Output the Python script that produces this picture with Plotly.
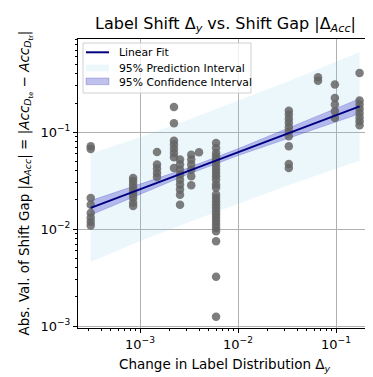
import plotly.graph_objects as go

# Scatter data: change in label distribution vs absolute shift gap
shift_x = (
    [3.14e-4] * 8
    + [8.5e-4] * 9
    + [1.49e-3] * 5
    + [2.22e-3] * 8
    + [2.56e-3] * 9
    + [3.33e-3] * 6
    + [4.0e-3] * 1
    + [5.97e-3] * 28
    + [0.033] * 10
    + [0.0655] * 2
    + [0.0974] * 5
    + [0.174] * 8
)
gap_y = [
    0.0718, 0.0673, 0.021, 0.0179, 0.0147, 0.0131, 0.0119, 0.0109,
    0.0338, 0.0313, 0.0289, 0.0267, 0.0247, 0.0228, 0.021, 0.0187, 0.0173,
    0.0626, 0.0464, 0.0422, 0.038, 0.0346,
    0.182, 0.124, 0.0819, 0.0745, 0.0677, 0.0612, 0.0553, 0.0428,
    0.0522, 0.0464, 0.0411, 0.0365, 0.0324, 0.0288, 0.0256, 0.0227, 0.0179,
    0.0587, 0.0522, 0.0464, 0.0411, 0.0351, 0.0284,
    0.0622,
    0.0776, 0.0689, 0.0612, 0.0566, 0.0522, 0.0483, 0.0446, 0.0411, 0.038, 0.0351,
    0.0324, 0.0288, 0.0267, 0.0228, 0.021, 0.0194, 0.0179, 0.0166, 0.0153, 0.0142,
    0.0131, 0.0121, 0.0112, 0.0103, 0.0095, 0.0075, 0.00322, 0.00125,
    0.167, 0.152, 0.138, 0.125, 0.113, 0.102, 0.091, 0.0718, 0.0471, 0.0428,
    0.369, 0.340,
    0.310, 0.226, 0.193, 0.165, 0.140,
    0.408, 0.212, 0.193, 0.175, 0.158, 0.143, 0.130, 0.118,
]

# Fit line and interval edges
fit_x = [3.14e-4, 1e-3, 3e-3, 1e-2, 3e-2, 0.174]
fit_y = [0.0166, 0.0258, 0.0393, 0.0622, 0.0946, 0.185]
pi_hi = [0.0603, 0.0885, 0.133, 0.211, 0.324, 0.673]
pi_lo = [0.00457, 0.00753, 0.0116, 0.0184, 0.0276, 0.0511]
ci_hi = [0.0197, 0.029, 0.0424, 0.0675, 0.106, 0.222]
ci_lo = [0.014, 0.023, 0.0364, 0.0574, 0.0843, 0.155]

legend_labels = ["Linear Fit", "95% Prediction Interval", "95% Confidence Interval"]

FONT = "DejaVu Sans"
W, H = 373, 377
L, R, T, B = 70, 10, 31, 57
PI_COLOR = "rgba(135,206,235,0.16)"
CI_COLOR = "rgba(60,60,200,0.32)"
CI_EDGE = "rgba(60,60,200,0.45)"
FIT_COLOR = "#000080"


# pixel -> paper coordinate helpers (for legend / labels)
def px(x):
    return (x - L) / (W - L - R)


def py(y):
    return (H - B - y) / (H - T - B)


fig = go.Figure()

# Prediction interval band
fig.add_trace(go.Scatter(
    x=fit_x + fit_x[::-1], y=pi_hi + pi_lo[::-1],
    fill="toself", fillcolor=PI_COLOR, line=dict(width=0, color=PI_COLOR),
    mode="lines", showlegend=False, hoverinfo="skip",
))

# Confidence interval band
fig.add_trace(go.Scatter(
    x=fit_x + fit_x[::-1], y=ci_hi + ci_lo[::-1],
    fill="toself", fillcolor=CI_COLOR, line=dict(width=0.6, color=CI_EDGE),
    mode="lines", showlegend=False, hoverinfo="skip",
))

# Data points
fig.add_trace(go.Scatter(
    x=shift_x, y=gap_y, mode="markers",
    marker=dict(size=8.5, color="rgba(100,100,100,0.84)", line=dict(width=0)),
    showlegend=False,
))

# Linear fit
fig.add_trace(go.Scatter(
    x=fit_x, y=fit_y, mode="lines",
    line=dict(color=FIT_COLOR, width=2), showlegend=False,
))

major = [1e-3, 1e-2, 1e-1]
major_text = ["10<sup>−3</sup>", "10<sup>−2</sup>", "10<sup>−1</sup>"]
minor = [m * 10 ** e for e in range(-4, 0) for m in range(2, 10)]

axis_common = dict(
    type="log", showline=True, linecolor="black", linewidth=1, mirror=True,
    ticks="outside", ticklen=4, tickcolor="black", tickwidth=1,
    showgrid=True, gridcolor="#b0b0b0", gridwidth=1,
    tickfont=dict(family=FONT, size=13, color="black"),
    zeroline=False, automargin=False,
    tickvals=major, ticktext=major_text,
    minor=dict(tickvals=minor, ticks="outside", ticklen=2, tickcolor="black", showgrid=False),
)
fig.update_xaxes(**axis_common, range=[-3.633, -0.643])
fig.update_yaxes(**axis_common, range=[-3.02, -0.038])

# Axis titles as annotations (y title overflows the figure like the original)
fig.add_annotation(
    xref="paper", yref="paper", x=px(217), y=py(357), xanchor="center", yanchor="middle",
    text="Change in Label Distribution Δ<sub><i>y</i></sub>", showarrow=False,
    font=dict(family=FONT, size=13.5, color="black"),
)
fig.add_annotation(
    xref="paper", yref="paper", x=px(17), y=py(175.5), xanchor="center", yanchor="middle",
    textangle=-90, showarrow=False,
    text="Abs. Val. of Shift Gap |Δ<sub><i>Acc</i></sub>| = |<i>Acc</i><sub><i>D</i><sub>te</sub></sub> − <i>Acc</i><sub><i>D</i><sub>tr</sub></sub>|",
    font=dict(family=FONT, size=13.5, color="black"),
)

# Hand-drawn legend box in the upper left
legend_shapes = [
    dict(type="rect", xref="paper", yref="paper", x0=px(75), x1=px(243), y0=py(85), y1=py(35),
         fillcolor="rgba(255,255,255,0.8)", line=dict(color="#d0d0d0", width=1), layer="above"),
    dict(type="line", xref="paper", yref="paper", x0=px(78), x1=px(101), y0=py(44.3), y1=py(44.3),
         line=dict(color=FIT_COLOR, width=2), layer="above"),
    dict(type="rect", xref="paper", yref="paper", x0=px(78), x1=px(101), y0=py(63.3), y1=py(56.7),
         fillcolor="rgba(135,206,235,0.16)", line=dict(width=0), layer="above"),
    dict(type="rect", xref="paper", yref="paper", x0=px(78), x1=px(101), y0=py(76.7), y1=py(70),
         fillcolor=CI_COLOR, line=dict(color=CI_EDGE, width=0.6), layer="above"),
]
for yy, label in zip([44.3, 60, 74.3], legend_labels):
    fig.add_annotation(
        xref="paper", yref="paper", x=px(109), y=py(yy), xanchor="left", yanchor="middle",
        text=label, showarrow=False, font=dict(family=FONT, size=10.8, color="black"),
    )

fig.update_layout(
    width=W, height=H,
    margin=dict(l=L, r=R, t=T, b=B),
    plot_bgcolor="white", paper_bgcolor="white",
    font=dict(family=FONT, color="black"),
    showlegend=False,
    shapes=legend_shapes,
    title=dict(text="Label Shift Δ<sub><i>y</i></sub> vs. Shift Gap |Δ<sub><i>Acc</i></sub>|",
               x=87 / W, xanchor="left", y=1 - 15 / H, yanchor="middle",
               font=dict(family=FONT, size=16, color="black")),
)

fig.write_html("out.html")
